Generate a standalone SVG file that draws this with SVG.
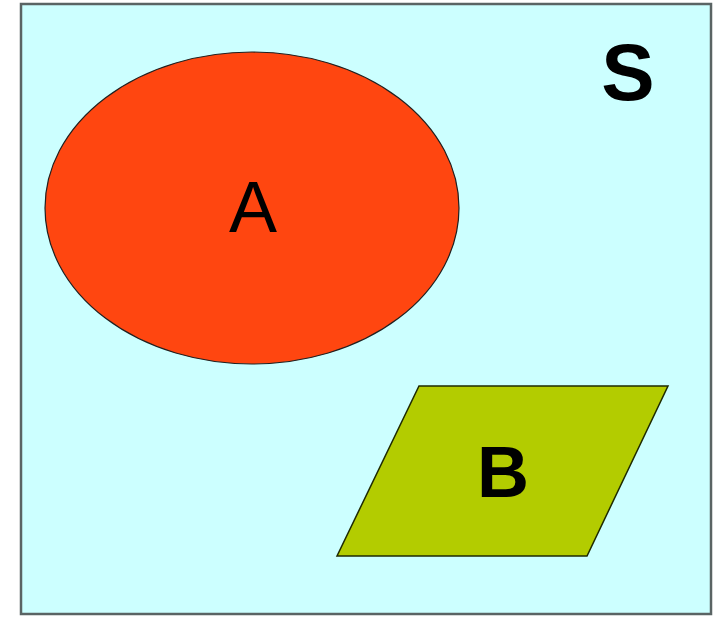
<svg xmlns="http://www.w3.org/2000/svg" width="715" height="617" viewBox="0 0 715 617">
<style>
.lbl{font-family:"Liberation Sans",Arial,sans-serif;fill:#000;text-anchor:middle}
</style>
<rect x="0" y="0" width="715" height="617" fill="#ffffff"/>
<g id="S">
<rect x="21" y="4" width="690" height="610" fill="#ccffff" stroke="#5a6464" stroke-width="2.5"/>
<text class="lbl" x="628" y="100" font-size="80" font-weight="bold">S</text>
</g>
<g id="A">
<ellipse cx="252" cy="208" rx="207" ry="156" fill="#ff4610" stroke="#202020" stroke-width="1.2"/>
<text class="lbl" x="253" y="232" font-size="72">A</text>
</g>
<g id="B">
<polygon points="419,386 668,386 587,556 337,556" fill="#b3cc00" stroke="#1e2a00" stroke-width="1.5"/>
<text class="lbl" x="503" y="497" font-size="72" font-weight="bold">B</text>
</g>
<g id="connectors"></g>
</svg>
